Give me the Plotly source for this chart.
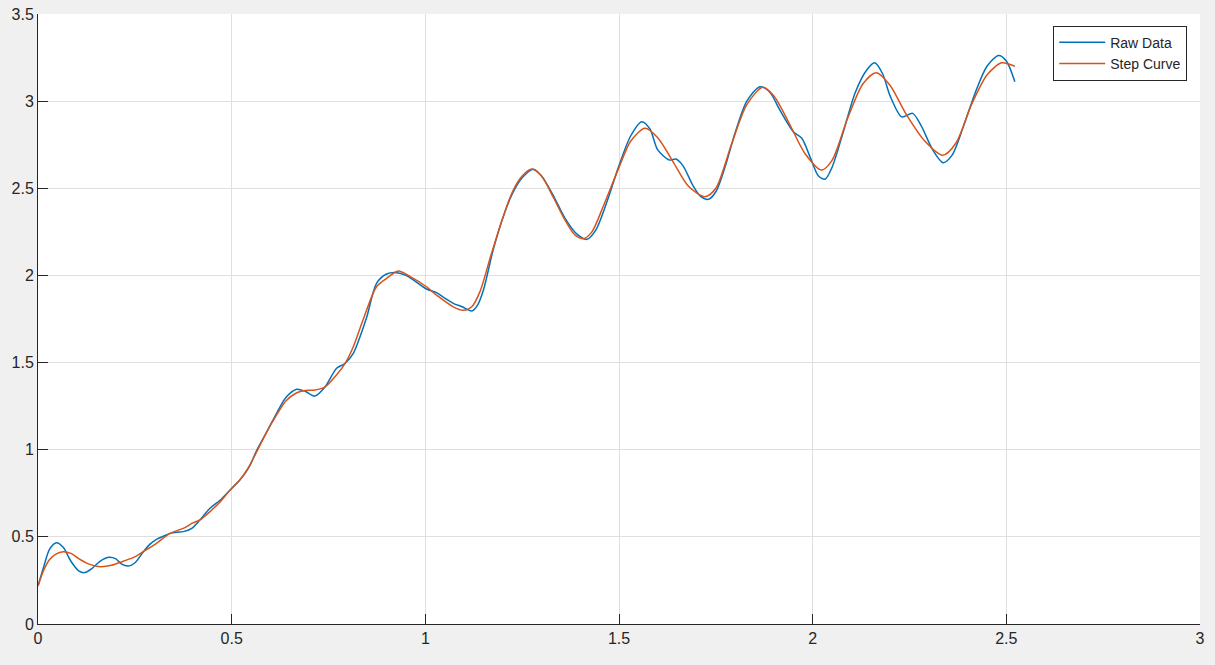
import plotly.graph_objects as go

# raw data
raw_x = [0.000, 0.015, 0.030, 0.048, 0.065, 0.085, 0.105, 0.121, 0.140, 0.160,
         0.182, 0.200, 0.215, 0.233, 0.250, 0.272, 0.290, 0.306, 0.325, 0.341,
         0.360, 0.375, 0.397, 0.418, 0.444, 0.470, 0.496, 0.521, 0.545, 0.565,
         0.590, 0.616, 0.640, 0.668, 0.690, 0.715, 0.741, 0.771, 0.793, 0.814,
         0.830, 0.849, 0.874, 0.900, 0.926, 0.950, 0.969, 1.003, 1.029, 1.050,
         1.072, 1.095, 1.120, 1.135, 1.150, 1.175, 1.200, 1.225, 1.250, 1.279,
         1.300, 1.330, 1.360, 1.390, 1.417, 1.440, 1.470, 1.500, 1.530, 1.559,
         1.580, 1.600, 1.630, 1.647, 1.665, 1.690, 1.710, 1.731, 1.750, 1.775,
         1.800, 1.830, 1.864, 1.890, 1.915, 1.950, 1.972, 1.995, 2.015, 2.032,
         2.050, 2.080, 2.110, 2.140, 2.160, 2.180, 2.200, 2.230, 2.258, 2.280,
         2.310, 2.337, 2.360, 2.390, 2.420, 2.450, 2.480, 2.500, 2.522]
raw_y = [0.218, 0.330, 0.430, 0.466, 0.440, 0.360, 0.305, 0.295, 0.320, 0.360,
         0.383, 0.375, 0.345, 0.333, 0.350, 0.415, 0.460, 0.486, 0.505, 0.520,
         0.527, 0.530, 0.549, 0.597, 0.664, 0.710, 0.769, 0.826, 0.900, 0.998,
         1.100, 1.209, 1.300, 1.347, 1.335, 1.308, 1.360, 1.467, 1.496, 1.553,
         1.640, 1.763, 1.955, 2.008, 2.016, 2.000, 1.974, 1.922, 1.901, 1.870,
         1.840, 1.820, 1.796, 1.830, 1.916, 2.146, 2.330, 2.470, 2.560, 2.609,
         2.570, 2.460, 2.330, 2.240, 2.207, 2.260, 2.430, 2.630, 2.800, 2.882,
         2.840, 2.720, 2.662, 2.668, 2.630, 2.520, 2.455, 2.437, 2.480, 2.630,
         2.820, 3.000, 3.083, 3.050, 2.950, 2.825, 2.787, 2.670, 2.570, 2.552,
         2.620, 2.830, 3.050, 3.180, 3.220, 3.160, 3.030, 2.910, 2.930, 2.860,
         2.720, 2.647, 2.690, 2.860, 3.050, 3.200, 3.262, 3.230, 3.111]

# smoothed step curve
step_x = [0.000, 0.015, 0.030, 0.045, 0.065, 0.085, 0.105, 0.130, 0.160, 0.190,
          0.220, 0.250, 0.272, 0.306, 0.341, 0.375, 0.400, 0.418, 0.444, 0.470,
          0.496, 0.521, 0.545, 0.565, 0.590, 0.616, 0.640, 0.668, 0.690, 0.715,
          0.741, 0.771, 0.793, 0.814, 0.840, 0.874, 0.900, 0.930, 0.960, 1.003,
          1.030, 1.072, 1.098, 1.120, 1.141, 1.170, 1.200, 1.225, 1.250, 1.275,
          1.300, 1.330, 1.360, 1.385, 1.408, 1.430, 1.460, 1.500, 1.530, 1.567,
          1.600, 1.640, 1.680, 1.722, 1.750, 1.790, 1.830, 1.871, 1.900, 1.940,
          1.980, 2.023, 2.050, 2.090, 2.130, 2.164, 2.200, 2.240, 2.290, 2.336,
          2.370, 2.410, 2.450, 2.488, 2.522]
step_y = [0.218, 0.310, 0.370, 0.400, 0.415, 0.405, 0.375, 0.345, 0.329, 0.337,
          0.360, 0.385, 0.415, 0.463, 0.520, 0.549, 0.580, 0.597, 0.645, 0.700,
          0.769, 0.826, 0.905, 0.990, 1.100, 1.200, 1.280, 1.327, 1.340, 1.342,
          1.360, 1.430, 1.496, 1.591, 1.750, 1.935, 1.983, 2.025, 1.995, 1.935,
          1.885, 1.820, 1.800, 1.820, 1.907, 2.120, 2.330, 2.480, 2.570, 2.610,
          2.570, 2.450, 2.320, 2.235, 2.211, 2.250, 2.400, 2.620, 2.770, 2.844,
          2.790, 2.650, 2.510, 2.452, 2.500, 2.750, 2.980, 3.079, 3.030, 2.870,
          2.700, 2.605, 2.660, 2.900, 3.100, 3.163, 3.090, 2.930, 2.770, 2.690,
          2.760, 2.980, 3.150, 3.220, 3.200]

fig = go.Figure()
fig.add_trace(go.Scatter(x=raw_x, y=raw_y, mode="lines", name="Raw Data",
                         line=dict(color="#0072BD", width=1.5, shape="spline", smoothing=0.8)))
fig.add_trace(go.Scatter(x=step_x, y=step_y, mode="lines", name="Step Curve",
                         line=dict(color="#D95319", width=1.5, shape="spline", smoothing=0.8)))

axis_font = dict(family="Liberation Sans, Arial, sans-serif", size=16, color="#262626")

fig.update_layout(
    width=1215, height=665,
    margin=dict(l=38, r=15, t=14, b=41),
    paper_bgcolor="#F0F0F0",
    plot_bgcolor="white",
    showlegend=True,
    legend=dict(x=0.989, y=0.981, xanchor="right", yanchor="top",
                bgcolor="white", bordercolor="#262626", borderwidth=1,
                font=dict(family="Liberation Sans, Arial, sans-serif", size=14, color="#262626"),
                tracegroupgap=0, itemwidth=46),
    xaxis=dict(range=[0, 3], dtick=0.5, tickformat="~g", showgrid=True,
               gridcolor="#DFDFDF", gridwidth=1, zeroline=False,
               showline=True, linecolor="#262626", linewidth=1,
               ticks="inside", ticklen=10, tickcolor="#262626",
               tickfont=axis_font, automargin=False),
    yaxis=dict(range=[0, 3.5], dtick=0.5, tickformat="~g", showgrid=True,
               gridcolor="#DFDFDF", gridwidth=1, zeroline=False,
               showline=True, linecolor="#262626", linewidth=1,
               ticks="inside", ticklen=10, tickcolor="#262626",
               tickfont=axis_font, automargin=False),
)

# drop the page's default body margin so the figure sits at the window corner
fig.write_html("out.html", config={"displayModeBar": False},
               post_script="document.body.style.margin='0';document.body.style.background='#F0F0F0';")
